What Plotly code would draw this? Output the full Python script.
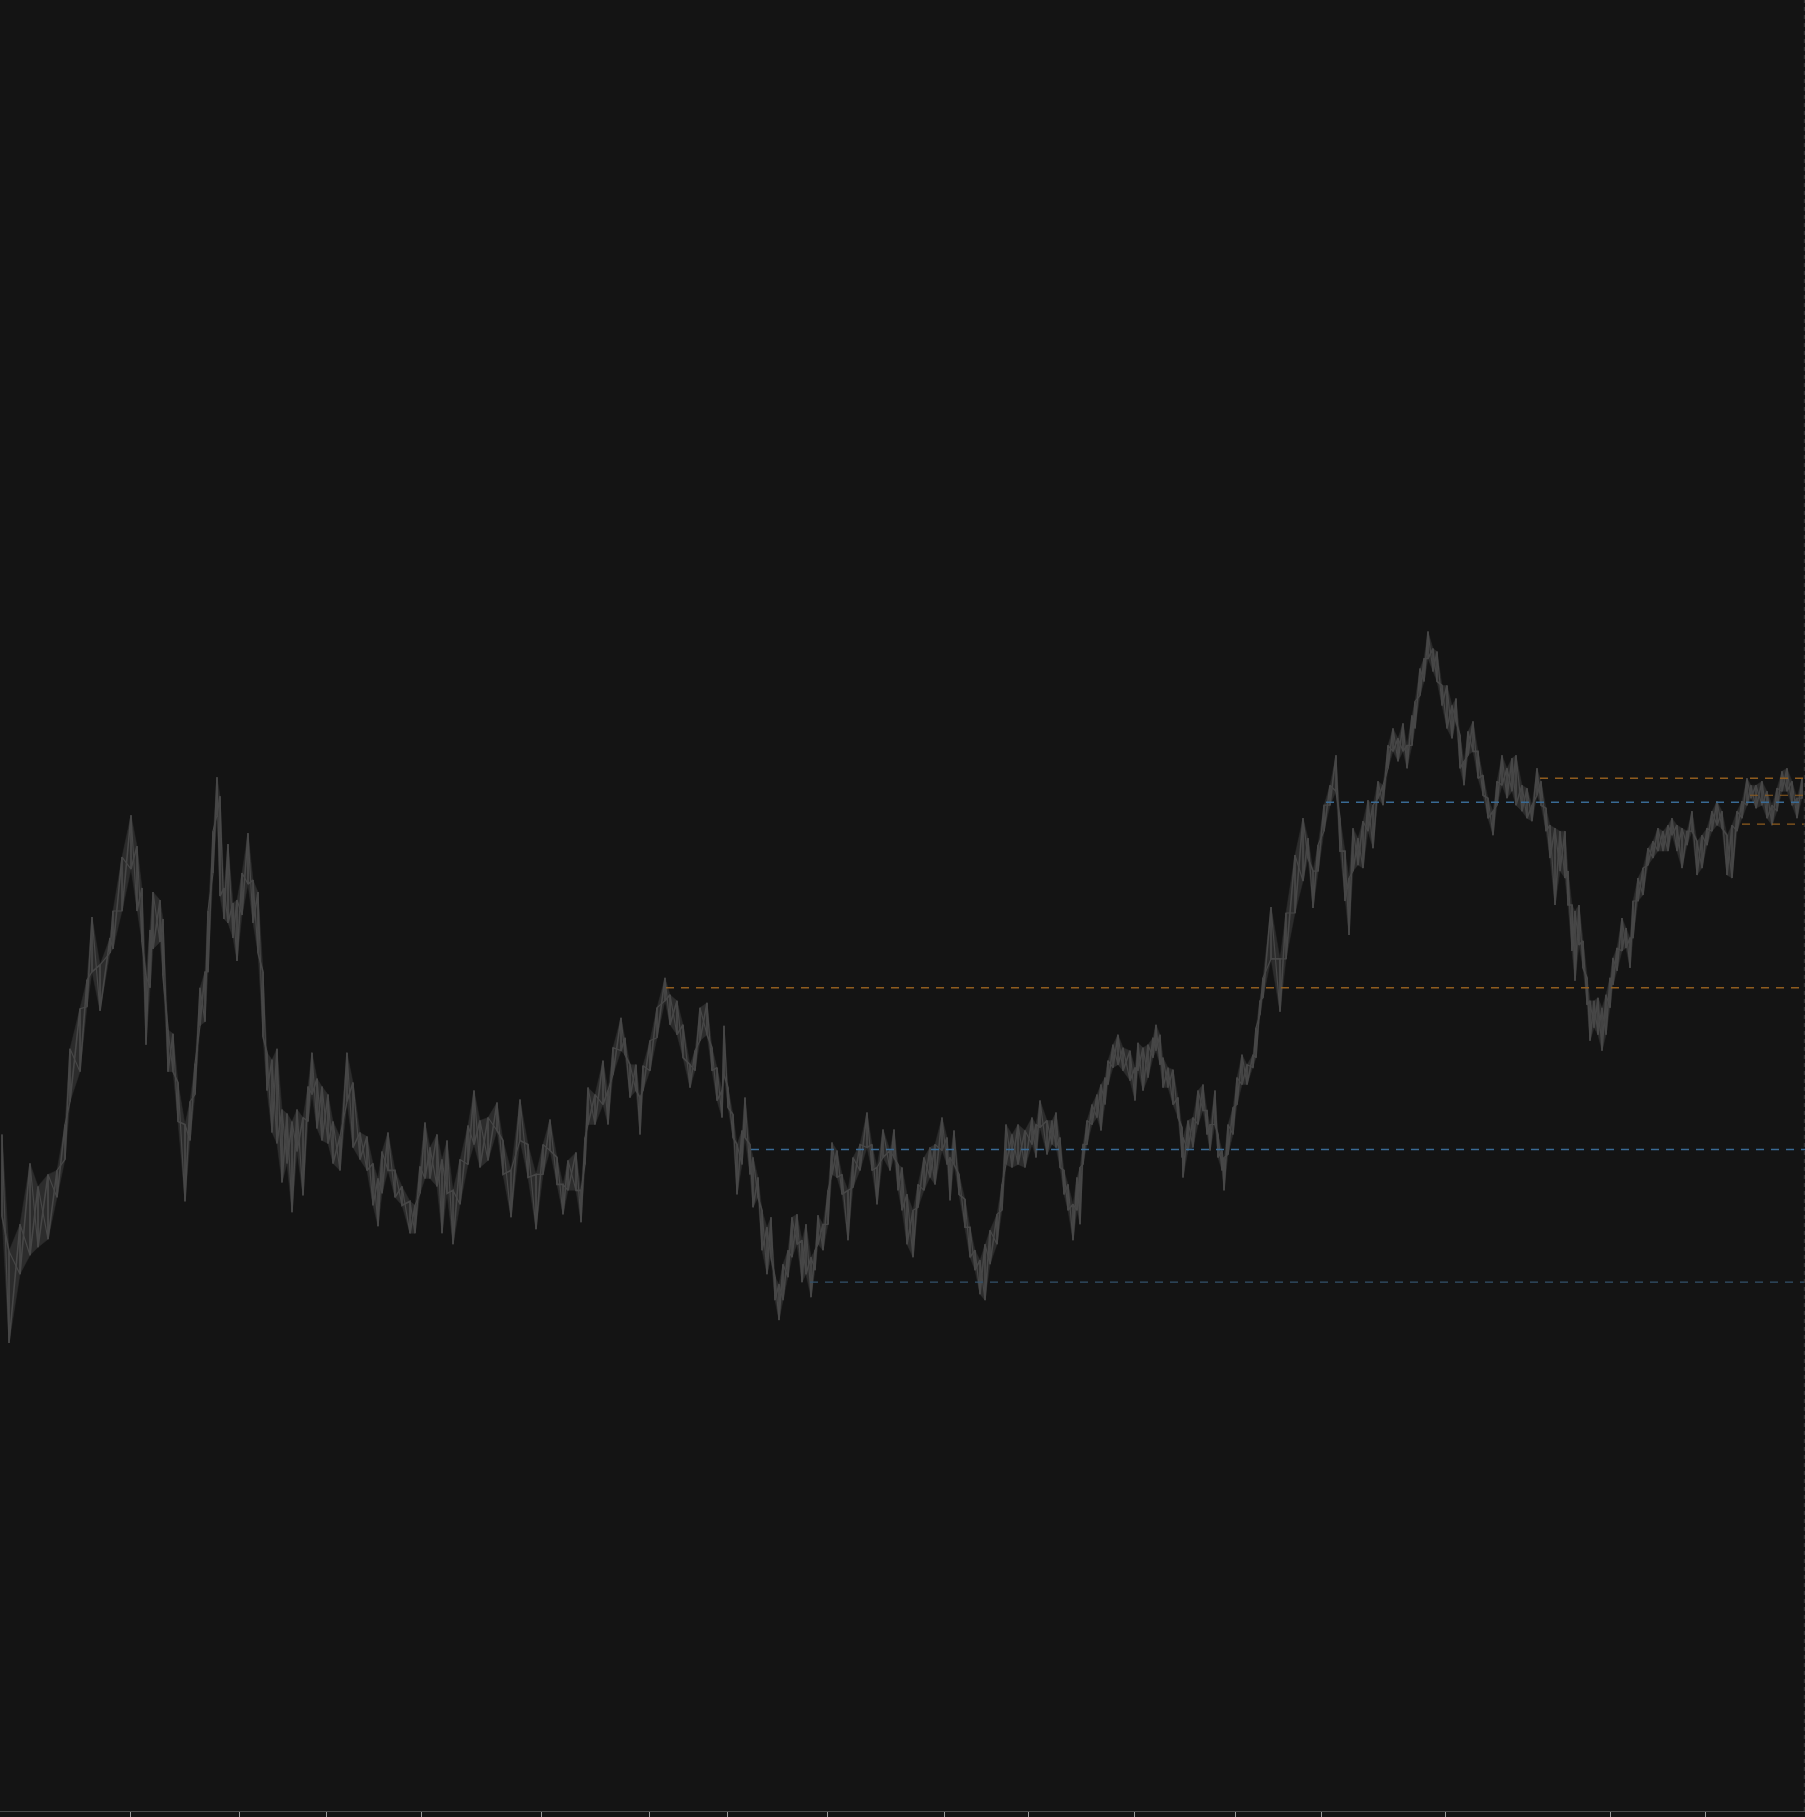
import plotly.graph_objects as go

# ---- price bars (time position, high, low) ----
bar_time = [2, 9, 20, 30, 38, 48, 57, 65, 70, 80, 87, 92, 100, 110, 113, 122, 131, 137, 142, 146, 150, 153, 160, 163, 168, 173, 178, 185, 190, 195, 200, 205, 208, 213, 217, 220, 224, 228, 233, 237, 242, 248, 253, 258, 263, 267, 272, 277, 282, 287, 292, 297, 303, 308, 312, 317, 322, 328, 333, 340, 347, 353, 360, 367, 373, 378, 382, 388, 395, 402, 410, 415, 420, 425, 430, 437, 442, 447,
            453, 460, 468, 474, 480, 488, 497, 503, 511, 520, 528, 536, 543, 550, 557, 563, 568, 576, 581, 585, 588, 595, 603, 608, 613, 621, 625, 630, 636, 640, 643, 650, 657, 665, 670, 677, 683, 690, 695, 700, 707, 712, 717, 722, 724, 728, 733, 737, 742, 745, 750, 753, 758, 762, 767, 771, 775, 779, 783, 788, 792, 797, 802, 806, 811, 815, 818, 823, 828, 832, 837, 842, 848, 853, 860, 867, 872, 877, 883, 890, 894, 898,
            902, 907, 913, 918, 924, 930, 935, 942, 947, 950, 954, 959, 965, 970, 975, 980, 985, 990, 997, 1002, 1006, 1012, 1018, 1025, 1032, 1036, 1040, 1047, 1052, 1056, 1060, 1064, 1068, 1073, 1077, 1080, 1083, 1087, 1092, 1097, 1101, 1105, 1108, 1113, 1118, 1123, 1130, 1135, 1138, 1143, 1148, 1153, 1156, 1160, 1163, 1168, 1173, 1178, 1182, 1183, 1188, 1193, 1198, 1203, 1207, 1210, 1215, 1218, 1222, 1224, 1228, 1233, 1237, 1242, 1247, 1253, 1256, 1260, 1263,
            1271, 1280, 1286, 1295,
            1303, 1308, 1313, 1318, 1324, 1330, 1336, 1340, 1345, 1349, 1353, 1358, 1363, 1368, 1373, 1378, 1383, 1388, 1393, 1398, 1403, 1407, 1412, 1415, 1420, 1424, 1428, 1433, 1437, 1442, 1447, 1452, 1456, 1460, 1464, 1468, 1473, 1478, 1483, 1488, 1493, 1497, 1502, 1507, 1512, 1516, 1522, 1527, 1532, 1537, 1541, 1546, 1550, 1555, 1560, 1565, 1568, 1572, 1575, 1579, 1583, 1587, 1590, 1594, 1598, 1602, 1606, 1610, 1613, 1617, 1622, 1626, 1630, 1633, 1638, 1643, 1648, 1653, 1658, 1663, 1668, 1672, 1677, 1682, 1687, 1692, 1697, 1702, 1707, 1712, 1717, 1722, 1727, 1732, 1737, 1742, 1747, 1751, 1756, 1762, 1767, 1772, 1777, 1782, 1787, 1792, 1797, 1802]

bar_high = [680, 563, 590, 651, 628, 640, 644, 690, 766, 806, 835, 898, 850, 877, 904, 958, 1000, 969, 927, 839, 885, 923, 915, 896, 785, 781, 732, 690, 713, 751, 827, 843, 904, 984, 1038, 1019, 927, 971, 912, 915, 942, 982, 935, 923, 843, 762, 755, 766, 705, 701, 693, 705, 697, 728, 762, 736, 728, 720, 693, 678, 762, 732, 682, 678, 651, 636, 663, 682, 644, 628, 613, 609, 648, 692, 667, 680, 655, 674,
            624, 655, 689, 724, 694, 697, 712, 674, 644, 715, 670, 640, 670, 695, 657, 630, 654, 662, 624, 677, 727, 720, 754, 724, 767, 797, 777, 750, 750, 717, 749, 774, 807, 837, 820, 814, 790, 750, 764, 807, 812, 767, 747, 724, 789, 727, 700, 670, 684, 717, 670, 657, 637, 604, 587, 597, 537, 530, 550, 564, 597, 600, 574, 590, 557, 564, 599, 590, 624, 672, 664, 640, 624, 657, 670, 702, 670, 647, 685, 664, 685, 650,
            647, 620, 604, 630, 657, 667, 670, 697, 677, 657, 684, 640, 615, 587, 564, 554, 570, 584, 600, 630, 690, 680, 690, 684, 697, 690, 714, 694, 694, 702, 677, 644, 630, 610, 637, 647, 670, 694, 710, 720, 730, 737, 754, 770, 780, 767, 764, 747, 772, 767, 770, 777, 790, 780, 757, 747, 745, 717, 687, 677, 694, 697, 724, 730, 704, 690, 724, 680, 664, 657, 690, 707, 737, 760, 750, 760, 787, 814, 837,
            908, 856, 902, 960,
            997, 977, 944, 970, 1010, 1030, 1060, 997, 964, 937, 987, 977, 994, 1015, 1010, 1034, 1030, 1070, 1087, 1077, 1092, 1070, 1100, 1114, 1147, 1157, 1184, 1167, 1164, 1130, 1130, 1110, 1117, 1080, 1054, 1084, 1094, 1064, 1040, 1017, 1004, 1034, 1060, 1047, 1057, 1060, 1030, 1027, 1010, 1047, 1034, 1007, 990, 987, 984, 984, 944, 910, 904, 910, 874, 837, 814, 814, 817, 807, 820, 837, 857, 867, 897, 887, 877, 914, 937, 947, 967, 974, 987, 984, 990, 997, 990, 987, 984, 1004, 974, 980, 987, 1004, 1014, 1004, 980, 990, 1004, 1014, 1037, 1030, 1030, 1034, 1024, 1010, 1027, 1044, 1047, 1034, 1017, 1037]

bar_low = [598, 471, 540, 559, 567, 575, 617, 655, 713, 743, 808, 843, 804, 862, 866, 904, 946, 904, 873, 770, 827, 866, 873, 839, 743, 743, 693, 613, 674, 720, 789, 793, 843, 942, 1000, 919, 896, 892, 877, 854, 900, 931, 892, 862, 778, 724, 682, 671, 632, 651, 602, 663, 619, 693, 720, 686, 674, 671, 651, 644, 713, 667, 655, 644, 609, 588, 621, 644, 617, 609, 581, 581, 621, 636, 636, 628, 581, 621,
           570, 610, 650, 670, 647, 654, 684, 640, 597, 674, 637, 585, 640, 664, 630, 600, 624, 624, 592, 650, 690, 690, 710, 690, 740, 764, 760, 717, 724, 680, 724, 744, 777, 814, 790, 780, 757, 727, 744, 774, 780, 744, 714, 697, 740, 707, 677, 620, 650, 677, 640, 607, 617, 564, 540, 557, 514, 494, 514, 537, 557, 570, 532, 540, 517, 544, 570, 564, 590, 640, 637, 620, 574, 627, 644, 667, 644, 610, 657, 644, 657, 624,
           604, 570, 557, 607, 624, 637, 630, 664, 650, 614, 650, 620, 587, 557, 544, 520, 514, 550, 570, 604, 650, 647, 650, 647, 670, 657, 687, 660, 670, 667, 647, 620, 604, 574, 604, 590, 650, 670, 690, 697, 684, 710, 730, 747, 750, 744, 734, 714, 744, 724, 737, 757, 764, 750, 727, 727, 710, 697, 657, 637, 664, 667, 690, 704, 680, 664, 690, 657, 644, 624, 660, 680, 710, 730, 730, 747, 757, 800, 817,
           856, 803, 856, 902,
           934, 957, 907, 944, 984, 1010, 1024, 964, 914, 880, 944, 950, 947, 984, 967, 1017, 1010, 1047, 1064, 1054, 1064, 1047, 1070, 1087, 1120, 1134, 1157, 1144, 1134, 1110, 1087, 1077, 1094, 1047, 1030, 1060, 1064, 1037, 1020, 997, 980, 1010, 1030, 1017, 1024, 1010, 1004, 997, 994, 1020, 1010, 984, 957, 910, 944, 937, 910, 864, 834, 870, 847, 810, 774, 787, 780, 764, 780, 807, 830, 844, 864, 867, 847, 877, 914, 920, 950, 957, 964, 964, 964, 980, 964, 947, 970, 984, 940, 947, 970, 984, 990, 987, 940, 937, 984, 997, 1010, 1017, 1007, 1010, 997, 990, 1004, 1024, 1024, 1010, 997, 1017]

# ---- horizontal levels (price, first time, kind) ----
level_price = [827, 665, 532, 1013, 1037, 991, 1020]
level_start = [666, 751, 810, 1326, 1540, 1742, 1750]
level_kind = ["high", "low", "low_old", "low", "high", "high_short", "high_short"]

# ---- axis ticks (time positions) ----
tick_times = [130, 239, 326, 421, 541, 649, 727, 827, 944, 1028, 1134, 1235, 1321, 1445, 1610, 1705]

X_END = 1805
BG = "#141414"
BAR = "#474747"
level_style = {
    "high": dict(color="#8f5c1e", width=1.6),
    "high_short": dict(color="#8f5c1e", width=1.2),
    "low": dict(color="#396a94", width=1.6),
    "low_old": dict(color="#33516b", width=1.2),
}

fig = go.Figure()

# faint band between lows and highs
fig.add_trace(go.Scatter(x=bar_time, y=bar_low, mode="lines",
                         line=dict(color="#2c2c2c", width=0.5), hoverinfo="skip"))
fig.add_trace(go.Scatter(x=bar_time, y=bar_high, mode="lines", fill="tonexty",
                         fillcolor="#2c2c2c", line=dict(color="#2c2c2c", width=0.5),
                         hoverinfo="skip"))

# bar-by-bar zigzags to mimic the dense bar texture
zx, zy = [], []
for t, h, l in zip(bar_time, bar_high, bar_low):
    zx += [t, t]
    zy += [h, l]
fig.add_trace(go.Scatter(x=zx, y=zy, mode="lines", line=dict(color=BAR, width=1.6),
                         hoverinfo="skip"))
zx2, zy2 = [], []
for t, h, l in zip(bar_time, bar_high, bar_low):
    zx2 += [t, t]
    zy2 += [l, h]
fig.add_trace(go.Scatter(x=zx2, y=zy2, mode="lines", line=dict(color=BAR, width=1.2),
                         hoverinfo="skip"))

for p, s, k in zip(level_price, level_start, level_kind):
    st = level_style[k]
    fig.add_trace(go.Scatter(x=[s, X_END], y=[p, p], mode="lines",
                             line=dict(color=st["color"], width=st["width"], dash="8px,7px"),
                             hoverinfo="skip"))

fig.add_shape(type="line", xref="x", yref="paper", x0=X_END - 0.7, x1=X_END - 0.7, y0=0, y1=1,
              line=dict(color="#3a3a3a", width=1, dash="4px,4px"))

fig.update_layout(
    width=1805, height=1817,
    margin=dict(l=0, r=0, t=0, b=2, pad=0),
    paper_bgcolor=BG, plot_bgcolor=BG,
    showlegend=False,
    xaxis=dict(range=[0, X_END], showgrid=False, zeroline=False,
               showline=True, linecolor="#4a4a4a", linewidth=1,
               tickmode="array", tickvals=tick_times, ticks="outside",
               ticklen=6, tickcolor="#9a9a9a", tickwidth=1, showticklabels=False),
    yaxis=dict(range=[2, 1817], showgrid=False, zeroline=False, showline=False,
               showticklabels=False, ticks=""),
)

fig.write_html("out.html", config={"displayModeBar": False},
               post_script="document.body.style.margin='0';document.body.style.background='#141414';document.body.style.overflow='hidden';")
